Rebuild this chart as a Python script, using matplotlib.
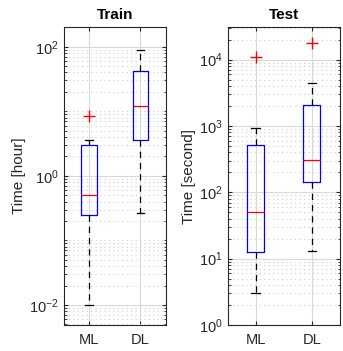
import numpy as np
import matplotlib.pyplot as plt
from matplotlib.ticker import LogLocator, NullFormatter

plt.rcParams['font.family'] = ['Liberation Sans', 'DejaVu Sans']

groups = ['ML', 'DL']

# Train time in hours
train_whislo = [0.01, 0.27]
train_q1 = [0.25, 3.65]
train_med = [0.50, 12.1]
train_q3 = [2.98, 42.0]
train_whishi = [3.56, 89.0]
train_fliers = [[8.4], []]

# Test time in seconds
test_whislo = [3.0, 13.0]
test_q1 = [12.4, 141.0]
test_med = [50.3, 302.0]
test_q3 = [519.0, 2036.0]
test_whishi = [917.0, 4460.0]
test_fliers = [[10800.0], [18100.0]]

dark = (0.15, 0.15, 0.15)


def make_stats(lo, q1, med, q3, hi, fl):
    stats = []
    for i in range(len(groups)):
        stats.append(dict(label=groups[i], whislo=lo[i], q1=q1[i], med=med[i],
                          q3=q3[i], whishi=hi[i], fliers=fl[i]))
    return stats


def draw(ax, stats, title, ylabel, ylim, majors):
    ax.bxp(stats, positions=[1, 2], widths=0.3, capwidths=0.15,
           boxprops=dict(color='blue', linewidth=0.9),
           medianprops=dict(color='red', linewidth=0.9),
           whiskerprops=dict(color='black', linewidth=0.9, linestyle=(0, (5, 4))),
           capprops=dict(color='black', linewidth=0.9),
           flierprops=dict(marker='+', markeredgecolor='red', markersize=8,
                           markeredgewidth=1.0, linestyle='none'))
    ax.set_yscale('log')
    ax.set_ylim(*ylim)
    ax.set_xlim(0.5, 2.5)
    ax.set_yticks(majors)
    ax.yaxis.set_minor_locator(LogLocator(base=10, subs=np.arange(1, 10), numticks=50))
    ax.yaxis.set_minor_formatter(NullFormatter())
    ax.set_xticks([1, 2])
    ax.set_xticklabels(groups)
    ax.grid(True, which='major', color=(0.85, 0.85, 0.85), linewidth=0.8)
    ax.grid(True, which='minor', axis='y', color=(0.8, 0.8, 0.8),
            linestyle=(0, (1, 3)), linewidth=0.8)
    ax.set_axisbelow(True)
    ax.tick_params(which='both', direction='in', top=True, right=True,
                   colors=dark, labelsize=10.5)
    ax.tick_params(which='major', length=3)
    ax.tick_params(which='minor', length=1.8)
    ax.tick_params(axis='x', pad=6)
    for s in ax.spines.values():
        s.set_color(dark)
        s.set_linewidth(0.8)
    ax.set_title(title, fontsize=11, fontweight='bold', pad=6)
    ax.set_ylabel(ylabel, fontsize=11, color=dark, labelpad=2)


fig = plt.figure(figsize=(3.43, 3.51), dpi=100)
ax1 = fig.add_axes([63.5 / 343, 1 - 325 / 351, 102.5 / 343, 298 / 351])
ax2 = fig.add_axes([227.5 / 343, 1 - 325 / 351, 112.5 / 343, 298 / 351])

draw(ax1, make_stats(train_whislo, train_q1, train_med, train_q3, train_whishi, train_fliers),
     'Train', 'Time [hour]', (0.0049, 202), [1e-2, 1e0, 1e2])
draw(ax2, make_stats(test_whislo, test_q1, test_med, test_q3, test_whishi, test_fliers),
     'Test', 'Time [second]', (1, 3.1e4), [1e0, 1e1, 1e2, 1e3, 1e4])

fig.savefig('out.png', dpi=100)
